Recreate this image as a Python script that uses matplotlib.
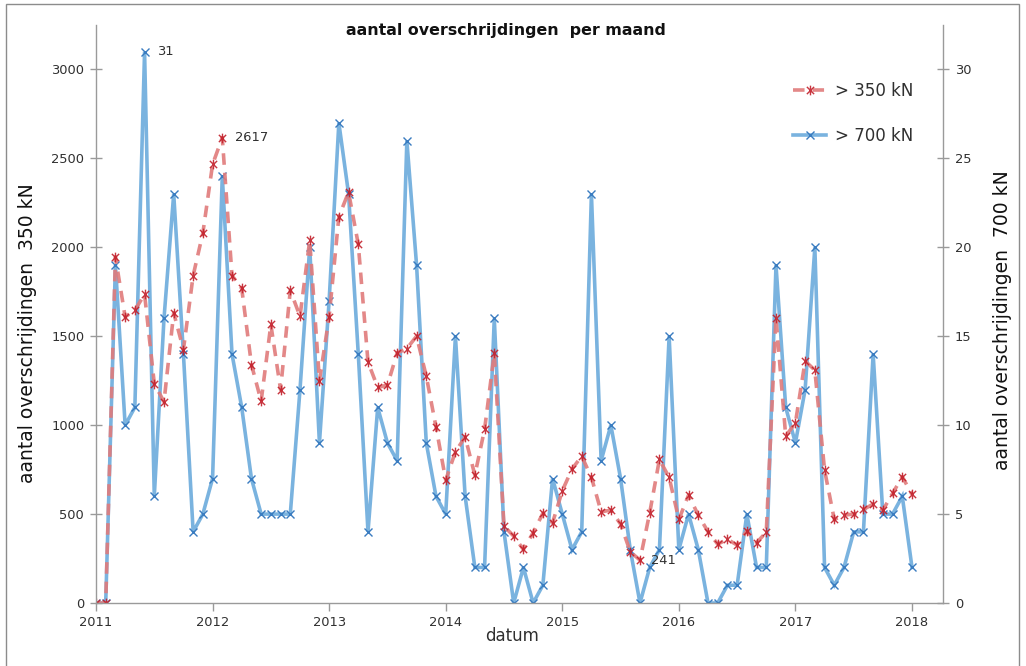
import matplotlib
matplotlib.use("Agg")
import matplotlib.pyplot as plt
from matplotlib.path import Path
from matplotlib.patches import Rectangle

# ---- data (monthly, Jan 2011 .. Jan 2018) ----
years = list(range(2011, 2019))
n_months = 85
dates = [2011 + i / 12.0 for i in range(n_months)]

red_350 = [
    0, 0, 1945, 1609, 1646, 1736, 1234, 1131, 1631, 1425, 1841, 2080,
    2466, 2617, 1841, 1769, 1341, 1135, 1566, 1200, 1758, 1612, 2039, 1250,
    1609, 2172, 2310, 2017, 1355, 1212, 1225, 1406, 1431, 1500, 1275, 990,
    691, 850, 934, 719, 976, 1403, 432, 376, 301, 395, 504, 451,
    631, 753, 826, 706, 513, 522, 444, 288, 241, 507, 807, 706,
    470, 607, 494, 401, 331, 358, 326, 406, 339, 398, 1605, 938,
    1013, 1361, 1309, 747, 470, 494, 500, 526, 556, 522, 616, 710,
    611,
]
blue_700 = [
    0, 0, 19, 10, 11, 31, 6, 16, 23, 14, 4, 5,
    7, 24, 14, 11, 7, 5, 5, 5, 5, 12, 20, 9,
    17, 27, 23, 14, 4, 11, 9, 8, 26, 19, 9, 6,
    5, 15, 6, 2, 2, 16, 4, 0, 2, 0, 1, 7,
    5, 3, 4, 23, 8, 10, 7, 3, 0, 2, 3, 15,
    3, 5, 3, 0, 0, 1, 1, 5, 2, 2, 19, 11,
    9, 12, 20, 2, 1, 2, 4, 4, 14, 5, 5, 6,
    2,
]
left_ticks = [0, 500, 1000, 1500, 2000, 2500, 3000]
right_ticks = [0, 5, 10, 15, 20, 25, 30]
label_red = "> 350 kN"
label_blue = "> 700 kN"

# ---- styles ----
W, H = 1026, 666
fig = plt.figure(figsize=(W / 100, H / 100), dpi=100)
fig.patch.set_facecolor("white")
ax = fig.add_axes([96 / W, 1 - 603 / H, (943 - 96) / W, (603 - 25) / H])
ax2 = ax.twinx()

spine_col = "#9a9a9a"
txt_col = "#303030"
blue_line = "#7ab3df"
blue_mark = "#3a7cc0"
red_line = "#e07b7b"
red_mark = "#c21f2a"

star = Path(
    [(0, -1), (0, 1), (-0.75, -0.75), (0.75, 0.75), (-0.75, 0.75), (0.75, -0.75)],
    [Path.MOVETO, Path.LINETO, Path.MOVETO, Path.LINETO, Path.MOVETO, Path.LINETO],
)

ax2.set_zorder(1)
ax.set_zorder(2)
ax.patch.set_visible(False)

lb, = ax2.plot(dates, blue_700, color=blue_line, lw=2.6, marker="x",
               markersize=6, markeredgecolor=blue_mark, markeredgewidth=1.0,
               label=label_blue, solid_joinstyle="miter")
lr, = ax.plot(dates, red_350, color=red_line, lw=2.6, ls=(0, (3.2, 2.2)),
              marker=star, markersize=7, markeredgecolor=red_mark,
              markerfacecolor="none", markeredgewidth=1.0, label=label_red,
              alpha=0.9)

ax.set_xlim(2011, 2018.266)
ax.set_ylim(0, 3250)
ax2.set_ylim(0, 32.5)
ax.set_xticks(years)
ax.set_xticklabels([str(y) for y in years])
ax.set_yticks(left_ticks)
ax2.set_yticks(right_ticks)

for a in (ax, ax2):
    a.spines["top"].set_visible(False)
    for s in ("left", "right", "bottom"):
        a.spines[s].set_color(spine_col)
        a.spines[s].set_linewidth(1.0)
ax.spines["right"].set_visible(False)
ax2.spines["left"].set_visible(False)
ax2.spines["bottom"].set_visible(False)

ax.tick_params(axis="y", direction="inout", length=9, width=1, color=spine_col,
               labelsize=9.4, labelcolor=txt_col, pad=4)
ax.tick_params(axis="x", direction="out", length=6, width=1, color=spine_col,
               labelsize=9.4, labelcolor=txt_col, pad=3)
ax2.tick_params(axis="y", direction="inout", length=9, width=1, color=spine_col,
                labelsize=9.4, labelcolor=txt_col, pad=4)

# annotations
ax2.annotate("31", (dates[5], blue_700[5]), xytext=(9, 0), textcoords="offset points",
             va="center", ha="left", fontsize=9.4, color=txt_col)
ax.annotate("2617", (dates[13], red_350[13]), xytext=(9, 0), textcoords="offset points",
            va="center", ha="left", fontsize=9.4, color=txt_col)
ax.annotate("241", (dates[56], red_350[56]), xytext=(8, 0), textcoords="offset points",
            va="center", ha="left", fontsize=9.4, color=txt_col)

# labels / title
fig.text(506 / W, 1 - 31 / H, "aantal overschrijdingen  per maand", ha="center",
         va="center", fontsize=11.4, fontweight="bold", color="#111111")
fig.text(28 / W, 1 - 333 / H, "aantal overschrijdingen  350 kN", rotation=90,
         ha="center", va="center", fontsize=13.5, color="#111111")
fig.text(1003 / W, 1 - 320 / H, "aantal overschrijdingen  700 kN", rotation=90,
         ha="center", va="center", fontsize=13.5, color="#111111")
fig.text(512 / W, 1 - 636 / H, "datum", ha="center", va="center", fontsize=12,
         color=txt_col)

# legend
leg = ax.legend(handles=[lr, lb], loc="upper left", bbox_to_anchor=(778 / W, 1 - 67 / H),
                bbox_transform=fig.transFigure, frameon=False, fontsize=12,
                handlelength=2.0, labelspacing=1.6, handletextpad=0.5,
                labelcolor=txt_col)

# outer frame
fig.patches.append(Rectangle((6 / W, -0.05), (1019 - 6) / W, 1.05 - 4 / H,
                             transform=fig.transFigure, fill=False,
                             edgecolor="#8c8c8c", lw=1.0))

fig.savefig("out.png", dpi=100)
